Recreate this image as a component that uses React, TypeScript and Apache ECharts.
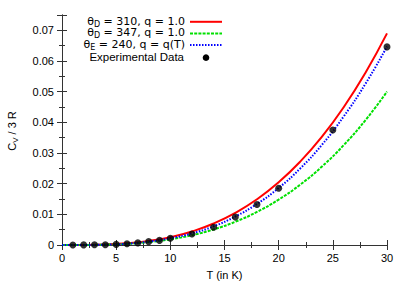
import React, { useEffect, useRef } from "react";
import * as echarts from "echarts";

const curveT = [0, 2, 4, 6, 8, 10, 12, 14, 16, 18, 20, 22, 24, 26, 28, 30];
const debye310 = [0, 0.00002, 0.000164, 0.00055, 0.00131, 0.00256, 0.00442, 0.00701, 0.01047, 0.0149, 0.02044, 0.02722, 0.03533, 0.04492, 0.05611, 0.069];
const debye347 = [0, 0.000015, 0.000119, 0.0004, 0.00095, 0.00185, 0.0032, 0.00508, 0.00758, 0.0108, 0.01481, 0.01972, 0.0256, 0.03255, 0.04065, 0.05];
const einstein240 = [0, 0.00001, 0.0001, 0.00042, 0.0011, 0.0022, 0.0038, 0.0061, 0.0093, 0.0134, 0.0186, 0.025, 0.0327, 0.0419, 0.0525, 0.0647];
const expT = [1, 2, 3, 4, 5, 6, 7, 8, 9, 10, 12, 14, 16, 18, 20, 25, 30];
const expCv = [0.00002, 0.00004, 0.00006, 0.0001, 0.0002, 0.0004, 0.0007, 0.0011, 0.0015, 0.0022, 0.0036, 0.0058, 0.0091, 0.0132, 0.0185, 0.0375, 0.0646];
// legend rows: [symbol, subscript, rest]
const legendRows: [string, string, string][] = [
  ["θ", "D", " = 310, q = 1.0"],
  ["θ", "D", " = 347, q = 1.0"],
  ["θ", "E", " = 240, q = q(T)"],
  ["", "", "Experimental Data"],
];

const FONT = "'Liberation Sans', Arial, Helvetica, sans-serif";
const LFONT = "'DejaVu Sans', sans-serif";
const AX = "#333";
const RED = "#ff0000";
const GREEN = "#00e000";
const BLUE = "#0000ff";

const pairs = (xs: number[], ys: number[]) => xs.map((x, i) => [x, ys[i]]);

function measure(text: string, size: number, family: string): number {
  const c = document.createElement("canvas").getContext("2d");
  if (!c) return text.length * size * 0.55;
  c.font = `${size}px ${family}`;
  return c.measureText(text).width;
}

const richTitle = {
  t: { fontSize: 11, fontFamily: FONT, color: "#000", lineHeight: 15, verticalAlign: "middle" as const },
  s: { fontSize: 8, fontFamily: FONT, color: "#000", lineHeight: 7, verticalAlign: "bottom" as const },
};

export default function App() {
  const ref = useRef<HTMLDivElement>(null);
  useEffect(() => {
    if (!ref.current) return;
    const chart = echarts.init(ref.current, null, { renderer: "svg" });
    const baseAxis = {
      axisLine: { show: true, lineStyle: { color: AX, width: 1 } },
      axisTick: { show: true, inside: true, length: 5, lineStyle: { color: AX } },
      minorTick: { show: true, splitNumber: 2, length: 3, lineStyle: { color: AX } },
      splitLine: { show: false },
    };
    const legendY = [21.3, 32.9, 44.5, 57.2];
    const legendColors = [RED, GREEN, BLUE];
    const legendDash: any[] = ["solid", [3, 1.2], [1.5, 1.5]];
    const graphics: any[] = [];
    const RIGHT = 185;
    const MAIN = 11;
    const SUB = 8;
    legendRows.forEach((row, i) => {
      const [pre, sub, rest] = row;
      const y = legendY[i];
      if (pre) {
        const wRest = measure(rest, MAIN, LFONT);
        const wSub = measure(sub, SUB, LFONT);
        graphics.push({
          type: "text",
          x: RIGHT,
          y,
          style: { text: rest, align: "right", verticalAlign: "middle", fontFamily: LFONT, fontSize: MAIN, fill: "#000" },
          z: 100,
        });
        graphics.push({
          type: "text",
          x: RIGHT - wRest,
          y: y + 3,
          style: { text: sub, align: "right", verticalAlign: "middle", fontFamily: LFONT, fontSize: SUB, fill: "#000" },
          z: 100,
        });
        graphics.push({
          type: "text",
          x: RIGHT - wRest - wSub,
          y,
          style: { text: pre, align: "right", verticalAlign: "middle", fontFamily: LFONT, fontSize: MAIN, fill: "#000" },
          z: 100,
        });
      } else {
        graphics.push({
          type: "text",
          x: RIGHT - 1,
          y,
          style: { text: rest, align: "right", verticalAlign: "middle", fontFamily: FONT, fontSize: 11.5, fill: "#000" },
          z: 100,
        });
      }
      if (i < 3) {
        graphics.push({
          type: "line",
          shape: { x1: 190, y1: y + 0.5, x2: 222, y2: y + 0.5 },
          style: { stroke: legendColors[i], lineWidth: 2, lineDash: legendDash[i] },
          z: 100,
        });
      } else {
        graphics.push({
          type: "circle",
          shape: { cx: 206, cy: y + 0.5, r: 3.3 },
          style: { fill: "#000" },
          z: 100,
        });
      }
    });
    graphics.push({
      type: "text",
      x: 12,
      y: 131,
      rotation: Math.PI / 2,
      style: {
        text: "{t|C}{s|V}{t| / 3 R}",
        rich: richTitle,
        align: "center",
        verticalAlign: "middle",
      },
    });
    chart.setOption({
      animation: false,
      grid: { left: 62, right: 20, top: 15, bottom: 37, containLabel: false },
      graphic: graphics,
      xAxis: [
        {
          ...baseAxis,
          type: "value",
          min: 0,
          max: 30,
          interval: 5,
          name: "T (in K)",
          nameLocation: "middle",
          nameGap: 24,
          nameTextStyle: { fontFamily: FONT, fontSize: 11, color: "#000" },
          axisLabel: { fontFamily: FONT, fontSize: 11, color: "#000", margin: 7 },
        },
        {
          ...baseAxis,
          type: "value",
          position: "top",
          min: 0,
          max: 30,
          interval: 5,
          axisLabel: { show: false },
        },
      ],
      yAxis: [
        {
          ...baseAxis,
          type: "value",
          min: 0,
          max: 0.075,
          interval: 0.01,
          axisLabel: { fontFamily: FONT, fontSize: 11, color: "#000", margin: 8, showMaxLabel: false },
        },
        {
          ...baseAxis,
          type: "value",
          position: "right",
          min: 0,
          max: 0.075,
          interval: 0.01,
          axisLabel: { show: false },
        },
      ],
      series: [
        {
          type: "line",
          data: pairs(curveT, debye310),
          smooth: true,
          showSymbol: false,
          lineStyle: { color: RED, width: 2 },
          z: 2,
        },
        {
          type: "line",
          data: pairs(curveT, debye347),
          smooth: true,
          showSymbol: false,
          lineStyle: { color: GREEN, width: 2, type: [3, 1.2] },
          z: 3,
        },
        {
          type: "line",
          data: pairs(curveT, einstein240),
          smooth: true,
          showSymbol: false,
          lineStyle: { color: BLUE, width: 2, type: [1.5, 1.5] },
          z: 4,
        },
        {
          type: "scatter",
          data: pairs(expT, expCv),
          symbol: "circle",
          symbolSize: 7,
          itemStyle: { color: "#000" },
          z: 5,
        },
      ],
    });
    return () => chart.dispose();
  }, []);
  return <div ref={ref} style={{ width: 407, height: 285, position: "absolute", left: 0, top: 0 }} />;
}
